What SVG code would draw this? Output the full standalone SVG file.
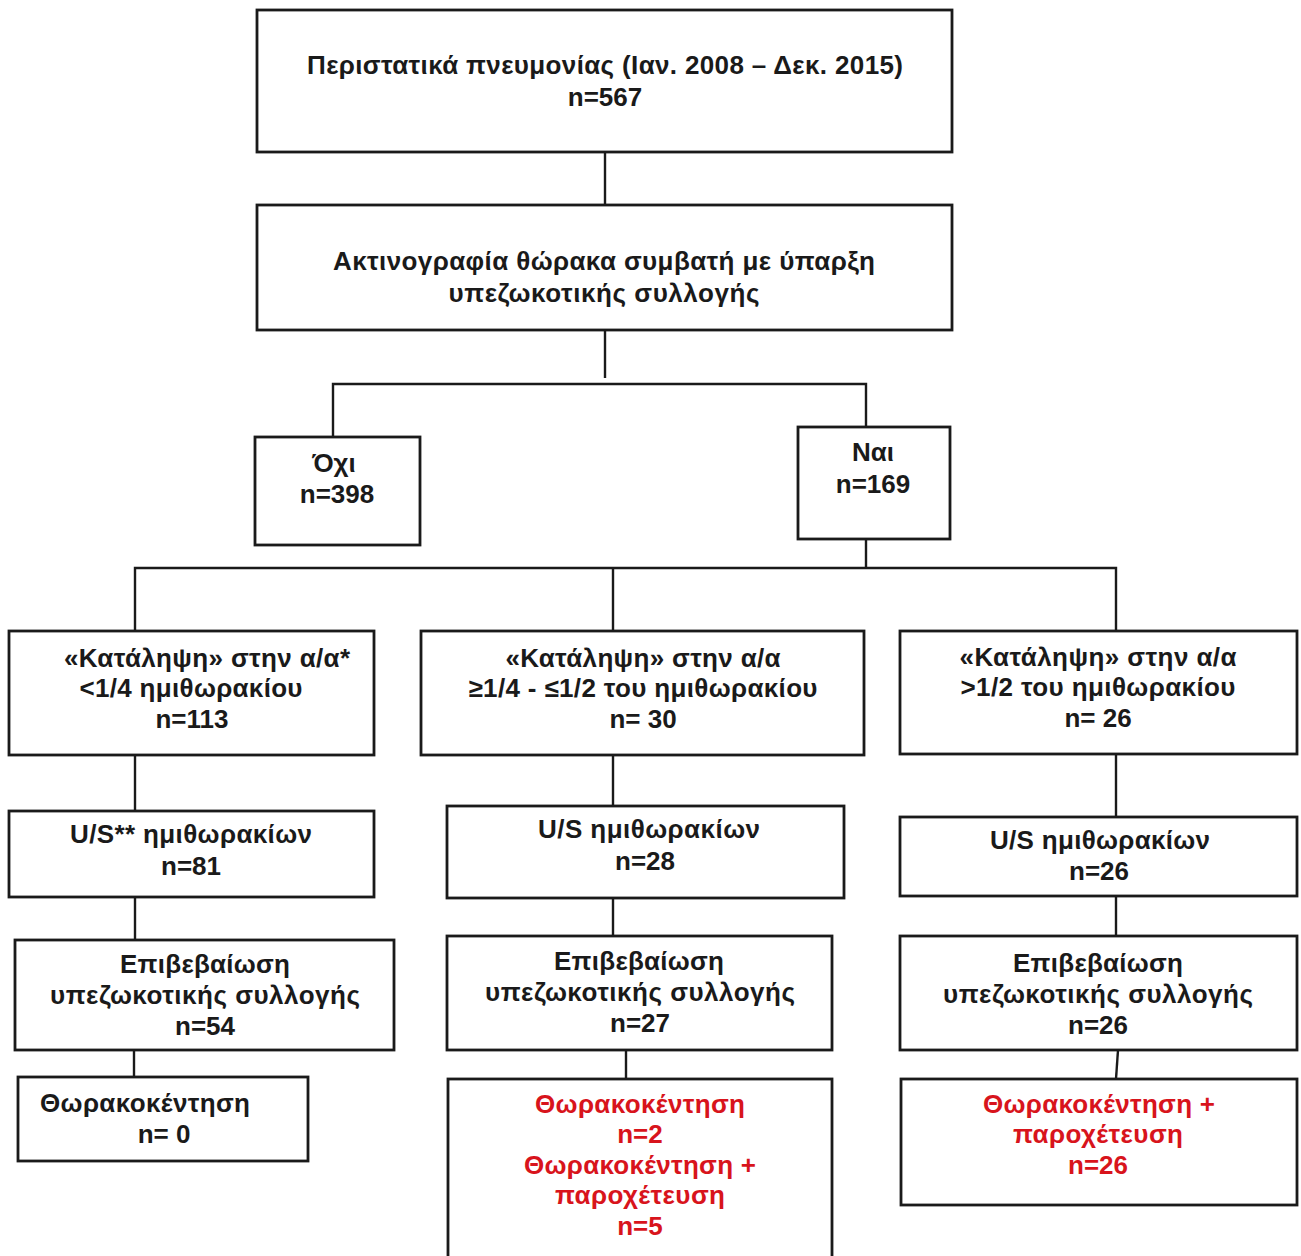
<svg xmlns="http://www.w3.org/2000/svg" width="1301" height="1256" viewBox="0 0 1301 1256">
  <style>
    .box { fill: #ffffff; stroke: #1a1a1a; stroke-width: 2.8; }
    .wire { fill: none; stroke: #1a1a1a; stroke-width: 2.4; }
    text { font-family: "Liberation Sans", Arial, sans-serif; font-weight: bold; font-size: 26px; fill: #1a1a1a; text-anchor: middle; }
    .red { fill: #d8141c; }
  </style>
  <rect width="1301" height="1256" fill="#ffffff"/>

  <g id="connectors">
    <path class="wire" d="M605 152 V205"/>
    <path class="wire" d="M605 330 V378"/>
    <path class="wire" d="M333 437 V384 H866 V427"/>
    <path class="wire" d="M866 539 V568"/>
    <path class="wire" d="M135 631 V568 H1116 V631"/>
    <path class="wire" d="M613 568 V631"/>
    <path class="wire" d="M135 755 V811"/>
    <path class="wire" d="M613 755 V806"/>
    <path class="wire" d="M1116 754 V817"/>
    <path class="wire" d="M135 897 V940"/>
    <path class="wire" d="M613 898 V936"/>
    <path class="wire" d="M1116 896 V936"/>
    <path class="wire" d="M134 1050 V1077"/>
    <path class="wire" d="M626 1050 V1079"/>
    <path class="wire" d="M1118 1050 L1116 1079"/>
  </g>

  <g id="cases">
    <rect class="box" x="257" y="10" width="695" height="142"/>
    <text x="605" y="74" textLength="596">Περιστατικά πνευμονίας (Ιαν. 2008 – Δεκ. 2015)</text>
    <text x="605" y="106">n=567</text>
  </g>

  <g id="xray">
    <rect class="box" x="257" y="205" width="695" height="125"/>
    <text x="604" y="270" textLength="542">Ακτινογραφία θώρακα συμβατή με ύπαρξη</text>
    <text x="604" y="302" textLength="311">υπεζωκοτικής συλλογής</text>
  </g>

  <g id="no">
    <rect class="box" x="255" y="437" width="165" height="108"/>
    <text x="334" y="472">Όχι</text>
    <text x="337" y="503">n=398</text>
  </g>

  <g id="yes">
    <rect class="box" x="798" y="427" width="152" height="112"/>
    <text x="873" y="461">Ναι</text>
    <text x="873" y="493">n=169</text>
  </g>

  <g id="small-effusion">
    <rect class="box" x="9" y="631" width="365" height="124"/>
    <text x="207" y="667" textLength="286">«Κατάληψη» στην α/α*</text>
    <text x="191" y="697" textLength="223">&lt;1/4 ημιθωρακίου</text>
    <text x="192" y="728">n=113</text>
  </g>

  <g id="medium-effusion">
    <rect class="box" x="421" y="631" width="443" height="124"/>
    <text x="643" y="667" textLength="275">«Κατάληψη» στην α/α</text>
    <text x="643" y="697" textLength="349">≥1/4 - ≤1/2 του ημιθωρακίου</text>
    <text x="643" y="728">n= 30</text>
  </g>

  <g id="large-effusion">
    <rect class="box" x="900" y="631" width="397" height="123"/>
    <text x="1098" y="666" textLength="277">«Κατάληψη» στην α/α</text>
    <text x="1098" y="696" textLength="275">&gt;1/2 του ημιθωρακίου</text>
    <text x="1098" y="727">n= 26</text>
  </g>

  <g id="us-small">
    <rect class="box" x="9" y="811" width="365" height="86"/>
    <text x="191" y="843" textLength="242">U/S** ημιθωρακίων</text>
    <text x="191" y="875">n=81</text>
  </g>

  <g id="us-medium">
    <rect class="box" x="447" y="806" width="397" height="92"/>
    <text x="649" y="838" textLength="222">U/S ημιθωρακίων</text>
    <text x="645" y="870">n=28</text>
  </g>

  <g id="us-large">
    <rect class="box" x="900" y="817" width="397" height="79"/>
    <text x="1100" y="849" textLength="220">U/S ημιθωρακίων</text>
    <text x="1099" y="880">n=26</text>
  </g>

  <g id="confirm-small">
    <rect class="box" x="15" y="940" width="379" height="110"/>
    <text x="205" y="973" textLength="170">Επιβεβαίωση</text>
    <text x="205" y="1004" textLength="310">υπεζωκοτικής συλλογής</text>
    <text x="205" y="1035">n=54</text>
  </g>

  <g id="confirm-medium">
    <rect class="box" x="447" y="936" width="385" height="114"/>
    <text x="639" y="970" textLength="170">Επιβεβαίωση</text>
    <text x="640" y="1001" textLength="310">υπεζωκοτικής συλλογής</text>
    <text x="640" y="1032">n=27</text>
  </g>

  <g id="confirm-large">
    <rect class="box" x="900" y="936" width="397" height="114"/>
    <text x="1098" y="972" textLength="170">Επιβεβαίωση</text>
    <text x="1098" y="1003" textLength="310">υπεζωκοτικής συλλογής</text>
    <text x="1098" y="1034">n=26</text>
  </g>

  <g id="tap-small">
    <rect class="box" x="18" y="1077" width="290" height="84"/>
    <text x="145" y="1112" textLength="210">Θωρακοκέντηση</text>
    <text x="164" y="1143">n= 0</text>
  </g>

  <g id="tap-medium">
    <rect class="box" x="448" y="1079" width="384" height="190"/>
    <text class="red" x="640" y="1113" textLength="210">Θωρακοκέντηση</text>
    <text class="red" x="640" y="1143">n=2</text>
    <text class="red" x="640" y="1174" textLength="232">Θωρακοκέντηση +</text>
    <text class="red" x="640" y="1204" textLength="170">παροχέτευση</text>
    <text class="red" x="640" y="1235">n=5</text>
  </g>

  <g id="tap-large">
    <rect class="box" x="901" y="1079" width="396" height="126"/>
    <text class="red" x="1099" y="1113" textLength="232">Θωρακοκέντηση +</text>
    <text class="red" x="1098" y="1143" textLength="170">παροχέτευση</text>
    <text class="red" x="1098" y="1174">n=26</text>
  </g>
</svg>
